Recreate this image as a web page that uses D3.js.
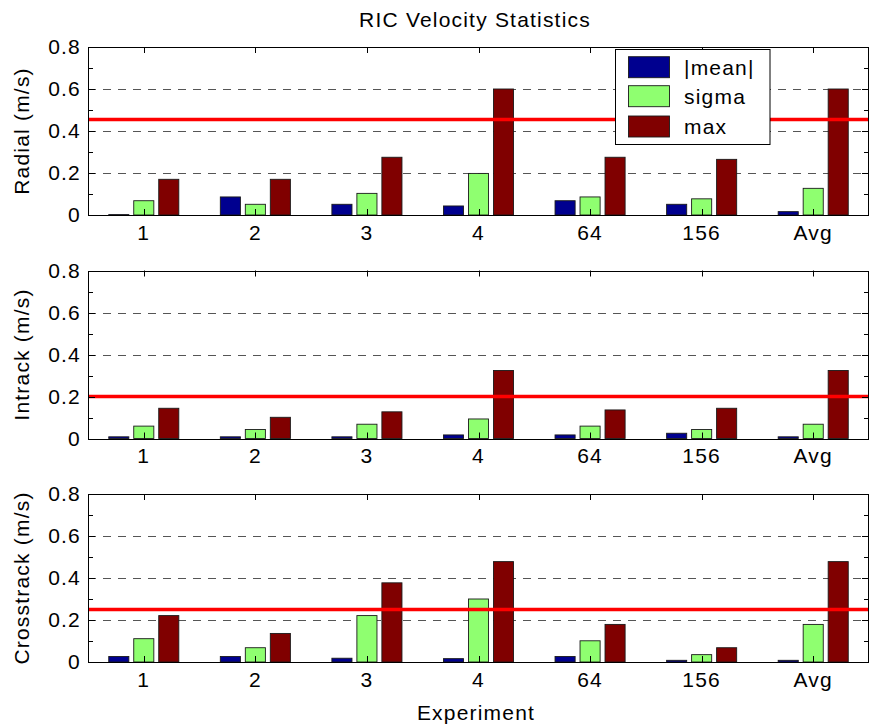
<!DOCTYPE html>
<html>
<head>
<meta charset="utf-8">
<script src="https://cdn.jsdelivr.net/npm/d3@7"></script>
<style>
  html, body { margin: 0; padding: 0; background: #fff; }
  svg { display: block; }
  text { font-family: "Liberation Sans", Arial, sans-serif; fill: #000; }
</style>
</head>
<body>
<svg id="chart" width="870" height="728"></svg>
<script>
// ---- Data ----
const categories = ["1", "2", "3", "4", "64", "156", "Avg"];
const seriesNames = ["|mean|", "sigma", "max"];
const seriesColors = ["#00008f", "#8fff70", "#800000"];

const panelLabels = ["Radial (m/s)", "Intrack (m/s)", "Crosstrack (m/s)"];
const thresholds = [0.455, 0.2, 0.25];

const radialMean  = [0.002, 0.086, 0.051, 0.043, 0.068, 0.051, 0.016];
const radialSigma = [0.068, 0.051, 0.103, 0.198, 0.086, 0.077, 0.127];
const radialMax   = [0.170, 0.170, 0.275, 0.600, 0.275, 0.265, 0.600];

const intrackMean  = [0.008, 0.008, 0.008, 0.017, 0.017, 0.025, 0.008];
const intrackSigma = [0.059, 0.043, 0.068, 0.093, 0.059, 0.043, 0.068];
const intrackMax   = [0.144, 0.101, 0.127, 0.324, 0.136, 0.144, 0.324];

const crossMean  = [0.026, 0.026, 0.018, 0.016, 0.026, 0.008, 0.008];
const crossSigma = [0.111, 0.068, 0.221, 0.300, 0.101, 0.035, 0.179];
const crossMax   = [0.221, 0.136, 0.377, 0.478, 0.179, 0.068, 0.478];

const yTickValues = [0, 0.2, 0.4, 0.6, 0.8];
const yMinorValues = [0.1, 0.2, 0.3, 0.4, 0.5, 0.6, 0.7];
const gridValues = [0.2, 0.4, 0.6];

const panels = [
  [radialMean, radialSigma, radialMax],
  [intrackMean, intrackSigma, intrackMax],
  [crossMean, crossSigma, crossMax]
];

// ---- Layout ----
const svg = d3.select("#chart");
const left = 88, right = 869;
const panelTops = [47, 270.5, 494];
const panelH = 168;
const FS = 21;
const LS = "1.2px";

const x = d3.scaleBand().domain(categories).range([left, right]).padding(0);
const band = x.bandwidth();
const barW = band * 0.18;
const barOff = band * 0.224;

function styleText(sel) {
  sel.style("font-size", FS + "px")
     .style("font-family", "'Liberation Sans', Arial, sans-serif")
     .style("letter-spacing", LS);
}

// Title
svg.append("text")
  .attr("x", 475).attr("y", 26.5)
  .attr("text-anchor", "middle")
  .call(styleText)
  .text("RIC Velocity Statistics");

panels.forEach((series, pi) => {
  const top = panelTops[pi];
  const bottom = top + panelH;
  const y = d3.scaleLinear().domain([0, 0.8]).range([bottom, top]);
  const g = svg.append("g");

  g.append("rect").attr("x", left).attr("y", top)
    .attr("width", right - left).attr("height", panelH)
    .attr("fill", "#fff");

  // dashed grid
  g.selectAll("line.grid").data(gridValues).enter().append("line")
    .attr("x1", left).attr("x2", right)
    .attr("y1", d => Math.round(y(d)) + 0.5).attr("y2", d => Math.round(y(d)) + 0.5)
    .attr("stroke", "#555").attr("stroke-width", 1)
    .attr("stroke-dasharray", "8,7");

  // bars
  series.forEach((vals, si) => {
    g.selectAll("rect.s" + si).data(vals).enter().append("rect")
      .attr("x", (d, i) => x(categories[i]) + band / 2 + (si - 1) * barOff - barW / 2)
      .attr("y", d => y(d))
      .attr("width", barW)
      .attr("height", d => bottom - y(d))
      .attr("fill", seriesColors[si])
      .attr("stroke", "#1a1a1a").attr("stroke-width", 0.9);
  });

  // threshold line
  g.append("line")
    .attr("x1", left).attr("x2", right)
    .attr("y1", y(thresholds[pi])).attr("y2", y(thresholds[pi]))
    .attr("stroke", "#ff0000").attr("stroke-width", 3.5);

  // y axis labels
  const yAxisL = d3.axisLeft(y).tickValues(yTickValues).tickSize(0).tickPadding(7)
    .tickFormat(d => d === 0 ? "0" : d3.format(".1f")(d));
  const ga = g.append("g").attr("transform", `translate(${left},0)`).call(yAxisL);
  ga.select(".domain").remove();
  ga.selectAll("text").call(styleText);

  // inward ticks on left and right
  g.selectAll("line.lt").data(yMinorValues).enter().append("line")
    .attr("x1", left).attr("x2", d => left + (gridValues.includes(d) ? 7 : 5))
    .attr("y1", d => Math.round(y(d)) + 0.5).attr("y2", d => Math.round(y(d)) + 0.5)
    .attr("stroke", "#000");
  g.selectAll("line.rt").data(yMinorValues).enter().append("line")
    .attr("x1", right).attr("x2", d => right - (gridValues.includes(d) ? 7 : 5))
    .attr("y1", d => Math.round(y(d)) + 0.5).attr("y2", d => Math.round(y(d)) + 0.5)
    .attr("stroke", "#000");

  // x axis labels
  const xAxis = d3.axisBottom(x).tickSize(0).tickPadding(10);
  const gx = g.append("g").attr("transform", `translate(0,${bottom})`).call(xAxis);
  gx.select(".domain").remove();
  gx.selectAll("text").call(styleText);

  // x ticks inward at top and bottom
  g.selectAll("line.xt").data(categories).enter().append("line")
    .attr("x1", d => Math.round(x(d) + band / 2) + 0.5).attr("x2", d => Math.round(x(d) + band / 2) + 0.5)
    .attr("y1", top).attr("y2", top + 6)
    .attr("stroke", "#000");
  g.selectAll("line.xb").data(categories).enter().append("line")
    .attr("x1", d => Math.round(x(d) + band / 2) + 0.5).attr("x2", d => Math.round(x(d) + band / 2) + 0.5)
    .attr("y1", bottom).attr("y2", bottom - 6)
    .attr("stroke", "#000");

  // frame
  g.append("rect").attr("x", left + 0.5).attr("y", Math.round(top) + 0.5)
    .attr("width", right - left - 1).attr("height", panelH)
    .attr("fill", "none").attr("stroke", "#000").attr("stroke-width", 1);

  // y label
  g.append("text")
    .attr("transform", `translate(29,${(top + bottom) / 2}) rotate(-90)`)
    .attr("text-anchor", "middle")
    .call(styleText)
    .text(panelLabels[pi]);
});

// x label
svg.append("text")
  .attr("x", 476).attr("y", 720)
  .attr("text-anchor", "middle")
  .call(styleText)
  .text("Experiment");

// legend
const lg = svg.append("g");
lg.append("rect").attr("x", 615.5).attr("y", 49.5).attr("width", 154.5).attr("height", 95)
  .attr("fill", "#fff").attr("stroke", "#000").attr("stroke-width", 1);
const legendY = [56.7, 85.7, 116];
seriesNames.forEach((name, i) => {
  lg.append("rect").attr("x", 628.5).attr("y", legendY[i]).attr("width", 41).attr("height", 21)
    .attr("fill", seriesColors[i]).attr("stroke", "#1a1a1a").attr("stroke-width", 0.9);
  lg.append("text").attr("x", 684).attr("y", legendY[i] + 18)
    .call(styleText)
    .text(name);
});
</script>
</body>
</html>
